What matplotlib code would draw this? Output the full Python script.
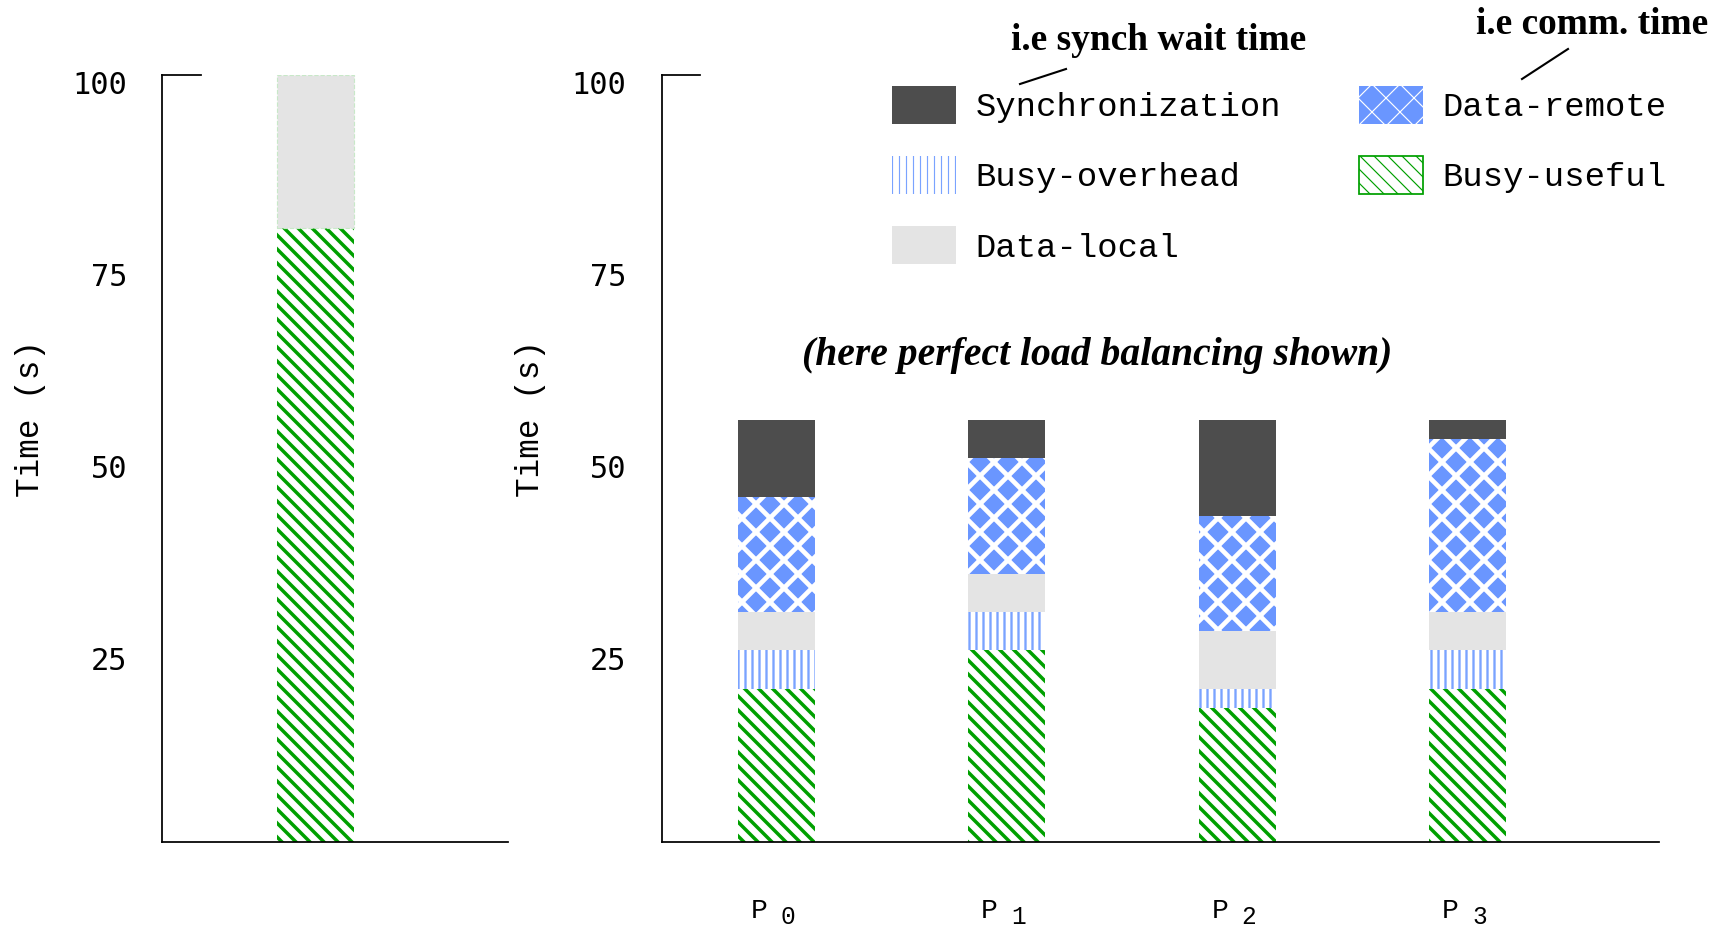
import matplotlib
matplotlib.use("Agg")
import matplotlib.pyplot as plt
import matplotlib.transforms as mtransforms
from matplotlib.lines import Line2D
import numpy as np

# ── data ────────────────────────────────────────────────────────────────────
procs = ["0", "1", "2", "3"]
busy_useful = [20, 25, 17.5, 20]
busy_overhead = [5, 5, 2.5, 5]
data_local = [5, 5, 7.5, 5]
data_remote = [15, 15, 15, 22.5]
synchronization = [10, 5, 12.5, 2.5]

serial_useful = [80]
serial_local = [20]

yticks = [25, 50, 75, 100]

# ── style ───────────────────────────────────────────────────────────────────
DPI = 84
GREEN = "#00a000"
BLUE = "#6a96ff"
BLUE_LT = "#7aa3ff"
DARK = "#4d4d4d"
LIGHT = "#e4e4e4"
MONO = "Liberation Mono"
WIDTH = 0.334


def hbar(ax, x, h, bottom, lw, **kw):
    with plt.rc_context({"hatch.linewidth": lw}):
        bars = ax.bar(x, h, bottom=bottom, width=WIDTH, linewidth=0, **kw)
    for b in bars:
        if hasattr(b, "set_hatch_linewidth"):
            b.set_hatch_linewidth(lw)
    return bars


def style_axes(ax, top_frac, label_x):
    ax.set_ylim(0, 100)
    for s in ("top", "right"):
        ax.spines[s].set_visible(False)
    for s in ("left", "bottom"):
        ax.spines[s].set_linewidth(1.5)
    ax.axhline(100, xmin=0, xmax=top_frac, color="black", lw=1.5, clip_on=False)
    ax.set_yticks(yticks)
    ax.set_yticklabels([str(t) for t in yticks], family="DejaVu Sans Mono", fontsize=26)
    ax.tick_params(axis="y", length=0, pad=30)
    off = mtransforms.ScaledTranslation(0, -8 / DPI, ax.figure.dpi_scale_trans)
    for lab in ax.get_yticklabels():
        lab.set_transform(lab.get_transform() + off)
    ax.set_ylabel("Time (s)", family=MONO, fontsize=28)
    ax.yaxis.set_label_coords(label_x, 0.5515)


fig = plt.figure(figsize=(1729 / DPI, 928 / DPI), dpi=DPI)
ax1 = fig.add_axes([0.0937, 0.0927, 0.2001, 0.8265])
ax2 = fig.add_axes([0.3826, 0.0927, 0.5772, 0.8265])

# ── left: single processor ──────────────────────────────────────────────────
x1 = np.arange(len(serial_useful))
hbar(ax1, x1, serial_useful, 0, 3.0, facecolor="white", edgecolor=GREEN, hatch="\\\\")
ax1.bar(x1, serial_local, bottom=serial_useful, width=WIDTH, facecolor=LIGHT,
        edgecolor="#c8e8c8", linewidth=1, linestyle="--")
ax1.set_xlim(-0.6655, 0.8356)
ax1.set_xticks([])
style_axes(ax1, 0.112, -0.335)

# ── right: four processors ──────────────────────────────────────────────────
x = np.arange(len(procs))
b0 = np.zeros(len(procs))
h_useful = hbar(ax2, x, busy_useful, b0, 3.0, facecolor="white", edgecolor=GREEN,
                hatch="\\\\", label="Busy-useful")
b1 = b0 + busy_useful
h_over = hbar(ax2, x, busy_overhead, b1, 2.0, facecolor="white", edgecolor=BLUE_LT,
              hatch="||", label="Busy-overhead")
b2 = b1 + busy_overhead
h_local = ax2.bar(x, data_local, bottom=b2, width=WIDTH, facecolor=LIGHT,
                  linewidth=0, label="Data-local")
b3 = b2 + data_local
h_remote = hbar(ax2, x, data_remote, b3, 4.0, facecolor=BLUE, edgecolor="white",
                hatch="x", label="Data-remote")
b4 = b3 + data_remote
h_sync = ax2.bar(x, synchronization, bottom=b4, width=WIDTH, facecolor=DARK,
                 linewidth=0, label="Synchronization")

ax2.set_xlim(-0.497, 3.833)
ax2.set_xticks([])
# processor labels "P n" with the index dropped a little
xform = ax2.get_xaxis_transform()
px = mtransforms.ScaledTranslation(-17 / DPI, 0, fig.dpi_scale_trans)
dx = mtransforms.ScaledTranslation(12 / DPI, -6 / DPI, fig.dpi_scale_trans)
for xi, p in zip(x, procs):
    ax2.text(xi, -0.0898, "P", family=MONO, fontsize=24, ha="center", va="center",
             transform=xform + px)
    ax2.text(xi, -0.0898, p, family=MONO, fontsize=21, ha="center", va="center",
             transform=xform + dx)
style_axes(ax2, 0.0387, -0.116)

leg = fig.legend([h_sync, h_over, h_local, h_remote, h_useful],
                 ["Synchronization", "Busy-overhead", "Data-local", "Data-remote", "Busy-useful"],
                 loc="upper left", bbox_to_anchor=(892 / 1729, 1 - 86 / 928), ncol=2,
                 frameon=False, borderpad=0, borderaxespad=0,
                 prop={"family": MONO, "size": 29},
                 handlelength=1.9, handleheight=1.35, labelspacing=0.95,
                 handletextpad=0.56, columnspacing=2.3)
leg.legend_handles[4].set_linewidth(1.5)

# ── annotations ─────────────────────────────────────────────────────────────
fig.text(1159 / 1729, 1 - 41 / 928, "i.e synch wait time", family="Liberation Serif",
         weight="bold", fontsize=32, ha="center", va="center")
fig.add_artist(Line2D([1020 / 1729, 1066 / 1729], [1 - 84 / 928, 1 - 69 / 928],
                      transform=fig.transFigure, color="black", lw=1.8))
fig.text(1592 / 1729, 1 - 24 / 928, "i.e comm. time", family="Liberation Serif",
         weight="bold", fontsize=32, ha="center", va="center")
fig.add_artist(Line2D([1522 / 1729, 1568 / 1729], [1 - 79 / 928, 1 - 49 / 928],
                      transform=fig.transFigure, color="black", lw=1.8))
fig.text(1097 / 1729, 1 - 356 / 928, "(here perfect load balancing shown)",
         family="Liberation Serif", weight="bold", style="italic", fontsize=34,
         ha="center", va="center")

fig.savefig("out.png", dpi=DPI)
